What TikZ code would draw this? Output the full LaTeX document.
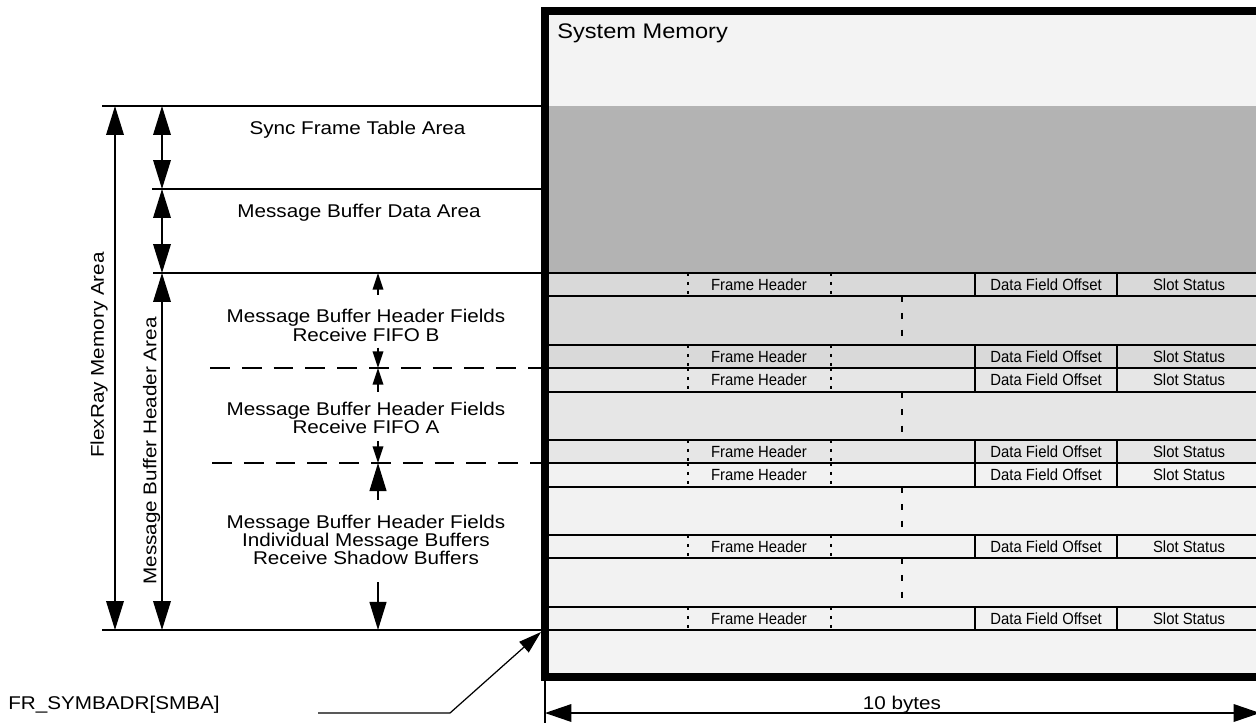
\documentclass[tikz,border=0pt]{standalone}
\usepackage{fontspec}
\setmainfont{Liberation Sans}
\newfontfamily\lblfont{Liberation Sans}[FakeStretch=1.12]
\newfontfamily\narrowfont{Liberation Sans}[FakeStretch=0.92]
\usetikzlibrary{arrows.meta}
\definecolor{sysmem}{HTML}{F3F3F3}
\definecolor{frdata}{HTML}{B3B3B3}
\definecolor{fifob}{HTML}{D9D9D9}
\definecolor{fifoa}{HTML}{E6E6E6}
\definecolor{indiv}{HTML}{F2F2F2}
\newcommand{\HdrRow}[3]{%
  \draw[fhsep] (688,#1) -- (688,#2) (831,#1) -- (831,#2);
  \draw[rowline] (975,#1) -- (975,#2) (1117,#1) -- (1117,#2);
  \draw[rowline] (545,#1) -- (1263,#1) (545,#2) -- (1263,#2);
  \node[cell] (#3fh) at (759,{(#1+#2)/2}) {Frame Header};
  \node[cell] (#3dfo) at (1046,{(#1+#2)/2}) {Data Field Offset};
  \node[cell] (#3ss) at (1189,{(#1+#2)/2}) {Slot Status};
}
\newcommand{\BlkRow}[2]{%
  \draw[blksep] (902,#1) -- (902,#2);
}

\begin{document}
\begin{tikzpicture}[
  x=0.02cm,y=-0.02cm,
  lbl/.style={font=\lblfont\fontsize{10.5}{10.4}\selectfont,inner sep=0pt,align=center},
  sml/.style={font=\lblfont\fontsize{12}{14}\selectfont,inner sep=0pt},
  cell/.style={font=\narrowfont\fontsize{9.2}{10}\selectfont,inner sep=0pt},
  rowline/.style={line width=1.1pt},
  fhsep/.style={line width=0.7pt,dash pattern=on 1.7pt off 3.4pt},
  blksep/.style={line width=1.6pt,dash pattern=on 3.4pt off 6.2pt},
  fifoline/.style={line width=1.1pt,dash pattern=on 11.3pt off 6.8pt},
  lvl/.style={line width=1pt},
  bigdim/.style={line width=1pt,{Triangle[length=16.5pt,width=10pt]}-{Triangle[length=16.5pt,width=10pt]}},
  bytedim/.style={line width=0.9pt,{Triangle[length=15pt,width=10pt]}-{Triangle[length=15pt,width=10pt]}},
  bigarr/.style={line width=1pt,-{Triangle[length=16pt,width=9.6pt]}},
  smallarr/.style={line width=1pt,-{Triangle[length=9.5pt,width=6pt]}},
  ldr/.style={line width=0.7pt,-{Triangle[length=13pt,width=8pt]}}
]
\useasboundingbox (0,0) rectangle (1256,723);
\clip (0,0) rectangle (1256,723);
\fill[sysmem] (545,11) rectangle (1263,106);
\fill[frdata] (545,106) rectangle (1263,273);
\fill[fifob] (545,273) rectangle (1263,368);
\fill[fifoa] (545,368) rectangle (1263,463);
\fill[indiv] (545,463) rectangle (1263,630);
\fill[sysmem] (545,630) rectangle (1263,677);
\HdrRow{273}{296}{ha}
\BlkRow{296}{345}
\HdrRow{345}{368}{hb}
\HdrRow{368}{392}{hc}
\BlkRow{392}{440}
\HdrRow{440}{463}{hd}
\HdrRow{463}{487}{he}
\BlkRow{487}{535}
\HdrRow{535}{558}{hf}
\BlkRow{558}{607}
\HdrRow{607}{630}{hg}
\draw[line width=4.5pt] (545,11) rectangle (1263,677);
\node[sml,anchor=base west] (sysm) at (557,39) {System Memory};

\coordinate (flxTop) at (115,106);
\coordinate (flxBot) at (115,630);
\coordinate (sfTop) at (162,106);
\coordinate (sfBot) at (162,189);
\coordinate (dbBot) at (162,273);
\coordinate (hdBot) at (162,630);
\coordinate (hTop) at (378,273);
\coordinate (hB) at (378,368);
\coordinate (hA) at (378,463);
\coordinate (hBot) at (378,630);
\coordinate (smba) at (541,632);
\coordinate (ldrStart) at (318,713);
\coordinate (ldrBend) at (450,713);
\coordinate (bwL) at (545,713);
\coordinate (bwR) at (1260,713);

\draw[lvl] (102,106) -- (545,106);
\draw[lvl] (152,189) -- (545,189);
\draw[lvl] (153,273) -- (545,273);
\draw[lvl] (102,630) -- (545,630);
\draw[fifoline] (210,368) -- (545,368);
\draw[fifoline] (212,463) -- (545,463);

\draw[bigdim] (flxTop) -- (flxBot);
\draw[bigdim] (sfTop) -- (sfBot);
\draw[bigdim] (sfBot) -- (dbBot);
\draw[bigdim] (dbBot) -- (hdBot);

\node[lbl,anchor=base] (sft) at (357.5,134) {Sync Frame Table Area};
\node[lbl,anchor=base] (mbd) at (359,217) {Message Buffer Data Area};
\node[lbl,rotate=90] (flx) at (99,355) {FlexRay Memory Area};
\node[lbl,rotate=90] (mbh) at (151.5,451) {Message Buffer Header Area};
\node[lbl] (fifoB) at (366,325.3) {Message Buffer Header Fields\\Receive FIFO B};
\node[lbl] (fifoA) at (366,418) {Message Buffer Header Fields\\Receive FIFO A};
\node[lbl] (indv) at (366,540) {Message Buffer Header Fields\\Individual Message Buffers\\Receive Shadow Buffers};

\draw[smallarr,shorten <=0.29cm] (fifoB.north -| hTop) -- (hTop);
\draw[smallarr,shorten <=0.12cm] (fifoB.south -| hB) -- (hB);
\draw[smallarr,shorten <=0.2cm] (fifoA.north -| hB) -- (hB);
\draw[smallarr,shorten <=0.14cm] (fifoA.south -| hA) -- (hA);
\draw[bigarr,shorten <=0.3cm] (indv.north -| hA) -- (hA);
\draw[bigarr,shorten <=0.34cm] (indv.south -| hBot) -- (hBot);

\node[lbl,anchor=base west] (smbaLbl) at (8,709) {FR\_SYMBADR[SMBA]};
\draw[ldr] (ldrStart) -- (ldrBend) -- (smba);
\draw[line width=0.6pt] (545,681) -- (545,723);
\draw[bytedim] (bwL) -- (bwR);
\node[lbl,anchor=base] (bytes) at (902,709) {10 bytes};
\end{tikzpicture}
\end{document}
